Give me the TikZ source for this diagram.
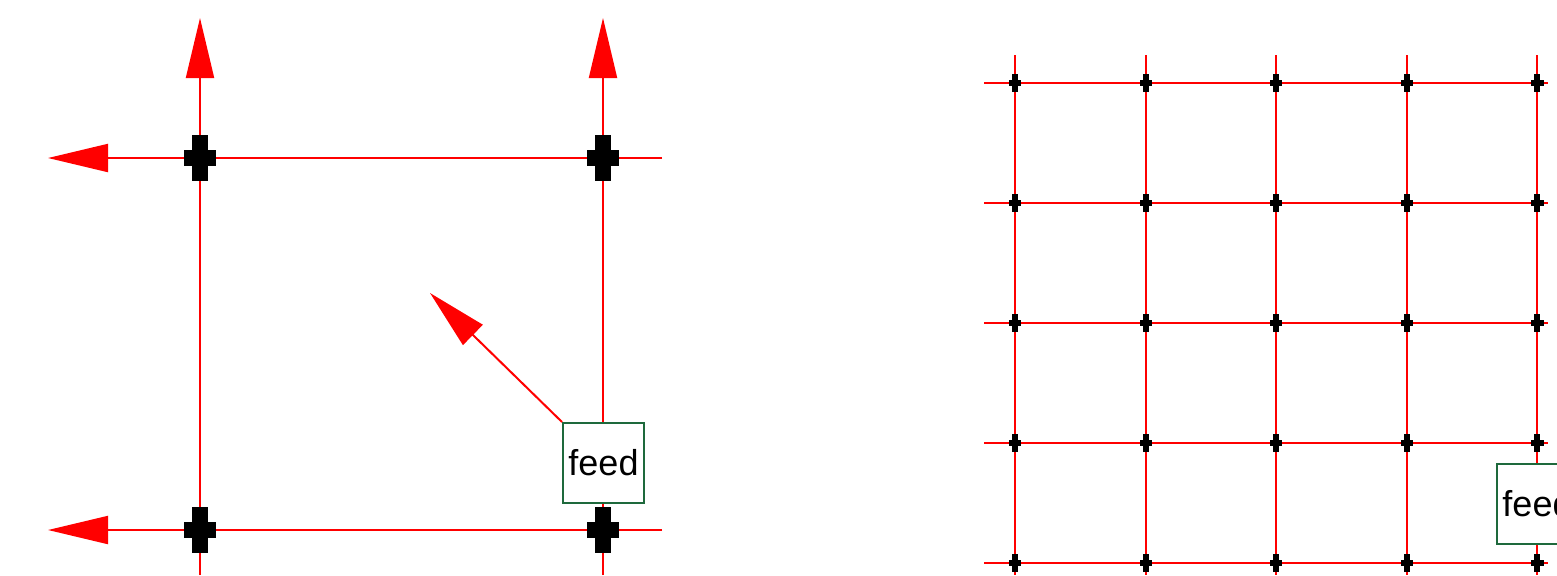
\documentclass[tikz,border=0pt]{standalone}
\usepackage{fontspec}
\setmainfont{Liberation Sans}
\usetikzlibrary{arrows.meta}

\definecolor{feedgreen}{RGB}{30,105,60}

\tikzset{
	wire/.style={red,line width=1pt},
	bigtip/.style={-{Triangle[length=30pt,width=14pt]}},
	feedbox/.style={draw=feedgreen,line width=1pt,fill=white,minimum width=40.5pt,minimum height=40pt,inner sep=0pt,font=\fontsize{18}{20}\selectfont},
	pics/joint/.style={code={
		\fill (-8,-23) rectangle (8,23);
		\fill (-16,-8) rectangle (16,8);
	}}
}

\begin{document}
\begin{tikzpicture}[x=0.5pt,y=-0.5pt]
	\useasboundingbox (0,0) rectangle (1557,575);
	% left: two by two
	\coordinate (tl) at (200,158);
	\coordinate (tr) at (603,158);
	\coordinate (bl) at (200,530);
	\coordinate (br) at (603,530);
	\coordinate (tlend) at (48,158);
	\coordinate (trend) at (662,158);
	\coordinate (blend) at (48,530);
	\coordinate (brend) at (662,530);
	\coordinate (ltop) at (200,18);
	\coordinate (lbot) at (200,575);
	\coordinate (rtop) at (603,18);
	\coordinate (rbot) at (603,575);
	\coordinate (diagtip) at (430,293);
	\draw[wire,bigtip] (trend) -- (tlend);
	\draw[wire,bigtip] (brend) -- (blend);
	\draw[wire,bigtip] (lbot) -- (ltop);
	\draw[wire,bigtip] (rbot) -- (rtop);
	\node[feedbox] (feedl) at (603.5,463) {feed};
	\draw[wire,bigtip] (feedl.north west) -- (diagtip);
	\pic at (tl) {joint};
	\pic at (tr) {joint};
	\pic at (bl) {joint};
	\pic at (br) {joint};
	% right: five by five
	\foreach \i in {0,...,4}{
		\coordinate (v\i a) at (1015+130.6*\i,55);
		\coordinate (v\i b) at (1015+130.6*\i,575);
		\draw[wire] (v\i a) -- (v\i b);
		\coordinate (h\i a) at (984,83+120*\i);
		\coordinate (h\i b) at (1548,83+120*\i);
		\draw[wire] (h\i a) -- (h\i b);
	}
	\node[feedbox] (feedr) at (1537.5,504) {feed};
	\foreach \i in {0,...,4}
		\foreach \j in {0,...,4}
			\pic[scale=0.38] at (1015+130.6*\i,83+120*\j) {joint};
\end{tikzpicture}
\end{document}
